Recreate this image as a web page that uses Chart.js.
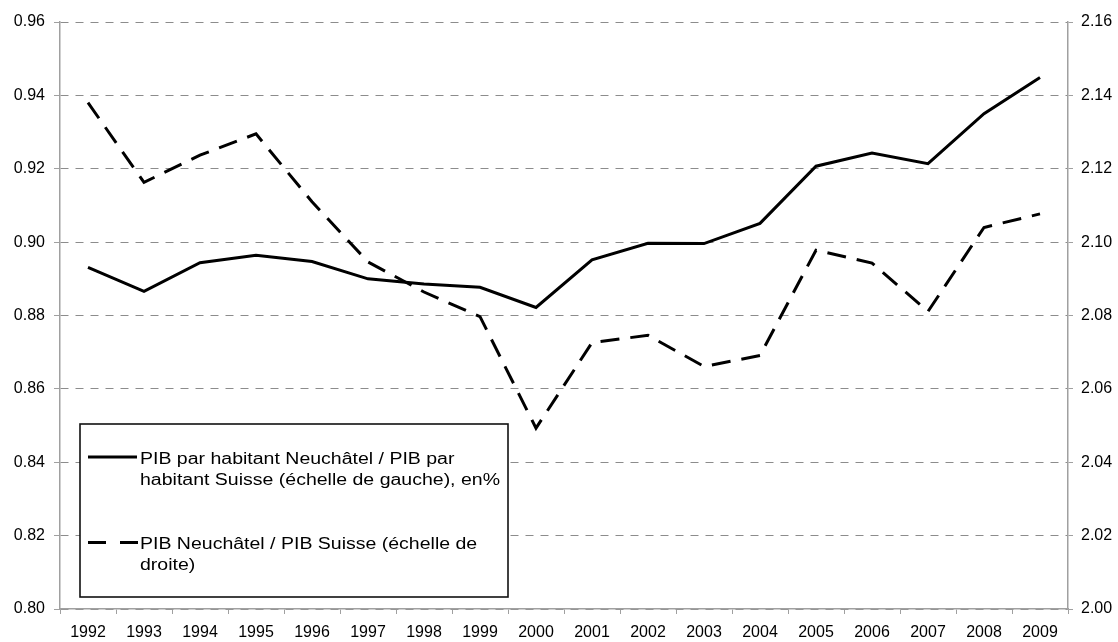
<!DOCTYPE html>
<html>
<head>
<meta charset="utf-8">
<script src="https://cdn.jsdelivr.net/npm/chart.js@4"></script>
<style>
html,body{margin:0;padding:0;background:#fff;}
#wrap{width:1118px;height:642px;}
</style>
</head>
<body>
<div id="wrap"><canvas id="c" width="1118" height="642"></canvas></div>
<script>
const years = ['1992','1993','1994','1995','1996','1997','1998','1999','2000','2001','2002','2003','2004','2005','2006','2007','2008','2009'];
const pibParHabitant = [0.8931, 0.8866, 0.8944, 0.8964, 0.8947, 0.8900, 0.8886, 0.8877, 0.8822, 0.8952, 0.8997, 0.8996, 0.9051, 0.9207, 0.9243, 0.9214, 0.9350, 0.9449];
const pibRatio = [2.1380, 2.1163, 2.1237, 2.1295, 2.1110, 2.0946, 2.0864, 2.0797, 2.0493, 2.0726, 2.0746, 2.0661, 2.0691, 2.0978, 2.0943, 2.0811, 2.1040, 2.1077];
const legendLabels1 = ['PIB par habitant Neuchâtel / PIB par', 'habitant Suisse (échelle de gauche), en%'];
const legendLabels2 = ['PIB Neuchâtel / PIB Suisse (échelle de', 'droite)'];

const FONT = '"Liberation Sans", Arial, sans-serif';
const GRID = '#8c8c8c';
const AXIS = '#a0a0a0';

const legendBox = {
  id: 'legendBox',
  afterDraw(chart) {
    const ctx = chart.ctx;
    ctx.save();
    ctx.fillStyle = '#fff';
    ctx.fillRect(80, 424, 428, 173);
    ctx.strokeStyle = '#111';
    ctx.lineWidth = 1.6;
    ctx.strokeRect(80, 424, 428, 173);
    ctx.strokeStyle = '#000';
    ctx.lineWidth = 3;
    ctx.setLineDash([]);
    ctx.beginPath(); ctx.moveTo(88, 457); ctx.lineTo(137, 457); ctx.stroke();
    ctx.setLineDash([18, 14]);
    ctx.beginPath(); ctx.moveTo(88, 542.5); ctx.lineTo(138, 542.5); ctx.stroke();
    ctx.setLineDash([]);
    ctx.fillStyle = '#000';
    ctx.font = '16px ' + FONT;
    ctx.textBaseline = 'alphabetic';
    ctx.textAlign = 'left';
    const sx = 360 / ctx.measureText(legendLabels1[1]).width;
    const rows = [[legendLabels1[0], 463.5], [legendLabels1[1], 484.5], [legendLabels2[0], 548.5], [legendLabels2[1], 569.5]];
    rows.forEach(([t, y]) => {
      ctx.save();
      ctx.translate(140, y);
      ctx.scale(sx, 1);
      ctx.fillText(t, 0, 0);
      ctx.restore();
    });
    ctx.restore();
  }
};

new Chart(document.getElementById('c'), {
  type: 'line',
  data: {
    labels: years,
    datasets: [
      {
        label: legendLabels1.join(' '),
        data: pibParHabitant,
        yAxisID: 'y',
        borderColor: '#000',
        borderWidth: 3,
        pointRadius: 0,
        tension: 0,
        fill: false
      },
      {
        label: legendLabels2.join(' '),
        data: pibRatio,
        yAxisID: 'y1',
        borderColor: '#000',
        borderWidth: 3,
        borderDash: [19, 11],
        pointRadius: 0,
        tension: 0,
        fill: false
      }
    ]
  },
  options: {
    responsive: false,
    animation: false,
    devicePixelRatio: 1,
    layout: { padding: { top: 22, right: 0, left: 0, bottom: 0 } },
    plugins: { legend: { display: false }, tooltip: { enabled: false } },
    scales: {
      x: {
        offset: true,
        grid: { offset: true, drawOnChartArea: false, color: AXIS, tickLength: 5, lineWidth: 1 },
        border: { color: AXIS, width: 1.5 },
        ticks: { color: '#000', font: { family: FONT, size: 16 }, padding: 9, maxRotation: 0, autoSkip: false },
        afterFit(s) { s.height = 33; }
      },
      y: {
        position: 'left',
        min: 0.80, max: 0.96,
        grid: { color: GRID, lineWidth: 1, tickLength: 6, tickColor: AXIS, tickBorderDash: [] },
        border: { color: AXIS, width: 1.5, dash: [8, 7] },
        ticks: { stepSize: 0.02, color: '#000', font: { family: FONT, size: 16 }, padding: 9,
          callback: v => Number(v).toFixed(2) },
        afterFit(s) { s.width = 60; }
      },
      y1: {
        position: 'right',
        min: 2.00, max: 2.16,
        grid: { drawOnChartArea: false, color: AXIS, tickLength: 5 },
        border: { color: AXIS, width: 1.5 },
        ticks: { stepSize: 0.02, color: '#000', font: { family: FONT, size: 16 }, padding: 8,
          callback: v => Number(v).toFixed(2) },
        afterFit(s) { s.width = 50; }
      }
    }
  },
  plugins: [legendBox]
});
</script>
</body>
</html>
